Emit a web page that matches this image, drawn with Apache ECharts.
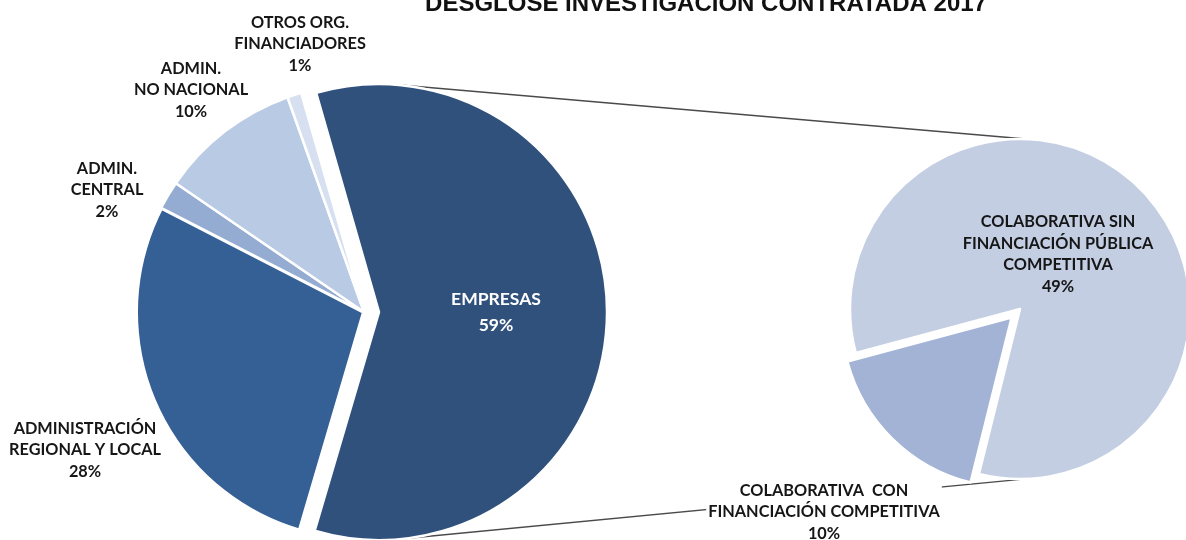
<!DOCTYPE html>
<html>
<head>
<meta charset="utf-8">
<title>Desglose investigación contratada 2017</title>
<script src="https://cdn.jsdelivr.net/npm/echarts@6/dist/echarts.min.js"></script>
<style>
  html, body { margin: 0; padding: 0; background: #fff; }
  #pieChart { width: 1186px; height: 540px; }
</style>
</head>
<body>
<div id="pieChart"></div>
<script>
// datos del gráfico (porcentajes)
const titleText = 'DESGLOSE INVESTIGACIÓN CONTRATADA 2017'
const leftNames = ['EMPRESAS', 'ADMINISTRACIÓN\nREGIONAL Y LOCAL', 'ADMIN.\nCENTRAL', 'ADMIN.\nNO NACIONAL', 'OTROS ORG.\nFINANCIADORES']
const leftValues = [59, 28, 2, 10, 1]
const rightNames = ['COLABORATIVA SIN\nFINANCIACIÓN PÚBLICA\nCOMPETITIVA', 'COLABORATIVA  CON\nFINANCIACIÓN COMPETITIVA']
const rightValues = [49, 10]

const leftColors = ['#30517c', '#346095', '#94abd2', '#b9cae4', '#d6e0f0']
const rightColors = ['#c3cee3', '#a2b3d6']

// geometría
const leftCenter = [364, 312]
const leftRadius = 228
const leftOffset = 15
const rightCenter = [1020, 309]
const rightRadius = 170
const rightOffset = 12
const rightStart = 195 // grados echarts

// posiciones de etiquetas (null = dentro del sector)
const leftLabelPos = [null, [85, 450], [107, 190], [191, 90], [300, 44]]
const rightLabelPos = [[1058, 254], [824, 512]]

const labelFont = {
    fontFamily: 'Lato',
    fontWeight: 'bold',
    fontSize: 16.3,
    lineHeight: 21.5,
    color: '#161616'
}

function pctLabel (p) {
    return p.name + '\n' + p.value + '%'
}

// punto en un círculo, ángulo en grados desde arriba en sentido horario
function arcPoint (c, r, deg) {
    const a = deg * Math.PI / 180
    return [c[0] + r * Math.sin(a), c[1] - r * Math.cos(a)]
}

const empCenter = [leftCenter[0] + leftOffset, leftCenter[1]]
const topA = arcPoint(empCenter, leftRadius, 6)
const topB = arcPoint(rightCenter, rightRadius, 3)
const botA = arcPoint(empCenter, leftRadius, 174)
const botB = arcPoint(rightCenter, rightRadius, 178)

// sector pequeño desplazado hacia fuera por su ángulo medio
const rightTotal = rightValues[0] + rightValues[1]
const smallMid = (90 - rightStart) + 360 * (rightValues[0] + rightValues[1] / 2) / rightTotal
const smallCenter = arcPoint(rightCenter, rightOffset, smallMid)

function placeLabel (positions) {
    return function (p) {
        const pos = positions[p.dataIndex]
        if (!pos) return {}
        return { x: pos[0], y: pos[1], align: 'center', verticalAlign: 'middle' }
    }
}

const chart = echarts.init(document.getElementById('pieChart'))
chart.setOption({
    animation: false,
    graphic: [
        {
            type: 'text',
            x: 706,
            y: 4,
            style: {
                text: titleText,
                align: 'center',
                verticalAlign: 'middle',
                font: 'bold 24px "Liberation Sans", Arial, sans-serif',
                fill: '#111'
            }
        },
        {
            type: 'line',
            z: 0,
            shape: { x1: topA[0], y1: topA[1], x2: topB[0], y2: topB[1] },
            style: { stroke: '#4a4a4a', lineWidth: 1.3 }
        },
        {
            type: 'line',
            z: 0,
            shape: { x1: botA[0], y1: botA[1], x2: botB[0], y2: botB[1] },
            style: { stroke: '#4a4a4a', lineWidth: 1.3 }
        }
    ],
    series: [
        {
            type: 'pie',
            center: leftCenter,
            radius: leftRadius,
            startAngle: 106,
            clockwise: true,
            selectedMode: 'single',
            selectedOffset: leftOffset,
            avoidLabelOverlap: false,
            emphasis: { scale: false },
            itemStyle: { borderColor: '#fff', borderWidth: 2.5 },
            labelLine: { show: false },
            label: Object.assign({ show: true, position: 'outside', formatter: pctLabel }, labelFont),
            labelLayout: placeLabel(leftLabelPos),
            data: leftValues.map(function (v, i) {
                return {
                    name: leftNames[i],
                    value: v,
                    selected: i === 0,
                    itemStyle: { color: leftColors[i], borderWidth: i === 1 ? 4 : 2.5 },
                    label: i === 0 ? { position: 'inside', color: '#fff', fontSize: 17.5, lineHeight: 26 } : {}
                }
            })
        },
        {
            // sector grande + etiquetas
            type: 'pie',
            center: rightCenter,
            radius: rightRadius,
            startAngle: rightStart,
            clockwise: true,
            avoidLabelOverlap: false,
            emphasis: { scale: false },
            labelLine: { show: false },
            label: Object.assign({ show: true, position: 'outside', formatter: pctLabel }, labelFont),
            labelLayout: placeLabel(rightLabelPos),
            data: rightValues.map(function (v, i) {
                return {
                    name: rightNames[i],
                    value: v,
                    itemStyle: i === 0
                        ? { color: rightColors[0], borderColor: '#fff', borderWidth: 2.5 }
                        : { color: 'rgba(0,0,0,0)', borderWidth: 0 },
                    label: i === 1 ? { backgroundColor: '#fff', padding: [2, 2] } : {}
                }
            })
        },
        {
            // sector pequeño desplazado
            type: 'pie',
            center: smallCenter,
            radius: rightRadius,
            startAngle: rightStart,
            clockwise: true,
            silent: true,
            emphasis: { scale: false },
            label: { show: false },
            labelLine: { show: false },
            data: rightValues.map(function (v, i) {
                return {
                    name: rightNames[i],
                    value: v,
                    itemStyle: i === 1
                        ? { color: rightColors[1], borderColor: '#fff', borderWidth: 2.5 }
                        : { color: 'rgba(0,0,0,0)', borderWidth: 0 }
                }
            })
        }
    ]
})
</script>
</body>
</html>
